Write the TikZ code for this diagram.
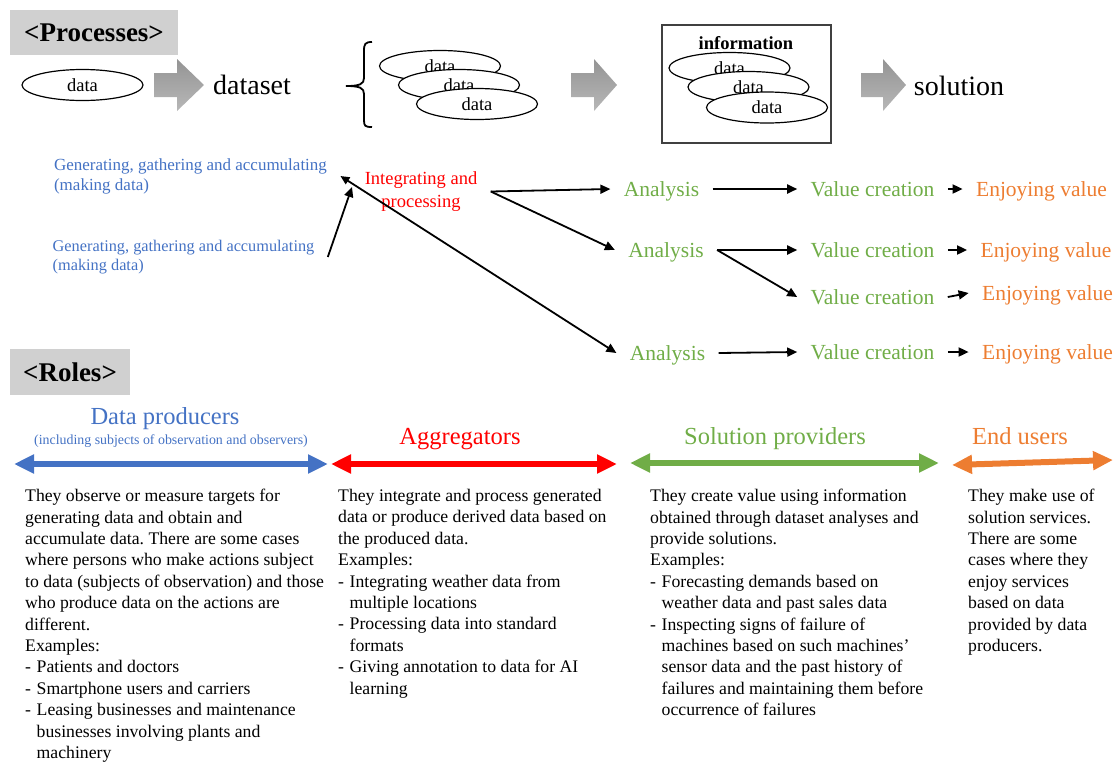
\documentclass[tikz,border=0pt]{standalone}
\usepackage{fontspec}
\setmainfont{Liberation Serif}
\usetikzlibrary{arrows.meta,shapes.geometric}
\definecolor{cblue}{HTML}{4472C4}
\definecolor{cred}{HTML}{FF0000}
\definecolor{cgreen}{HTML}{70AD47}
\definecolor{corange}{HTML}{ED7D31}
\definecolor{boxgray}{HTML}{D0D0D0}
\newcommand\fsz[2]{\fontsize{#1}{#2}\selectfont}
\frenchspacing
\begin{document}
\begin{tikzpicture}[x=1pt,y=-1pt,
  lbl/.style={inner sep=0pt, outer sep=13.5pt},
  flow/.style={lbl, font=\fsz{21.5}{25}, text height=15pt, text depth=0.5pt},
  big/.style={lbl, font=\fsz{28}{32}, text height=19.5pt, text depth=2pt},
  dat/.style={ellipse, draw, fill=white, line width=1.2pt, minimum width=121pt, minimum height=31pt, inner sep=0pt, font=\fsz{18.5}{20}},
  conn/.style={line width=1.8pt, -{Triangle[length=10pt,width=9pt]}},
  conntwo/.style={line width=1.8pt, {Triangle[length=9pt,width=8pt]}-{Triangle[length=10pt,width=9pt]}},
  rolearr/.style={line width=6pt, {Triangle[length=20pt,width=18pt]}-{Triangle[length=20pt,width=18pt]}},
  blockarr/.style={top color=black!42, bottom color=black!28, draw=none},
  head/.style={fill=boxgray, inner sep=0pt, font=\bfseries\fsz{27}{30}},
  body/.style={anchor=north west, inner sep=0pt, align=left, font=\fsz{17.7}{21.4}},
  role/.style={inner sep=0pt, font=\fsz{24.5}{28}, text height=17pt, text depth=5pt}
]
\useasboundingbox (0,0) rectangle (1117,761);

% ---------- Processes ----------
\node[head, minimum width=168pt, minimum height=45pt] (proc) at (94,32.5) {<Processes>};

\node[dat] (d0) at (82.5,85) {data};
\shade[blockarr] (154,73) -- (177,73) -- (177,59) -- (204,85) -- (177,111) -- (177,97) -- (154,97) -- cycle;
\node[big] (dset) at (252,86) {dataset};

\draw[line width=1.8pt] (372,42) .. controls (365,42) and (364,44) .. (364,51) -- (364,78)
  .. controls (364,84) and (360,86) .. (346,86) .. controls (360,86) and (364,88) .. (364,94)
  -- (364,120) .. controls (364,126) and (365,127) .. (372,127);

\node[dat] (ds1) at (440,66) {data};
\node[dat] (ds2) at (459,85) {data};
\node[dat] (ds3) at (477,104) {data};

\shade[blockarr] (571,73) -- (594,73) -- (594,59) -- (617,85) -- (594,111) -- (594,97) -- (571,97) -- cycle;

\node[draw=black!75, line width=1.5pt, minimum width=169pt, minimum height=118pt, inner sep=0pt] (info) at (746.5,84) {};
\node[inner sep=0pt, font=\bfseries\fsz{18.5}{20}] (infol) at (746,43) {information};
\node[dat] (in1) at (729.5,68) {data};
\node[dat] (in2) at (748.5,87) {data};
\node[dat] (in3) at (767,107.5) {data};

\shade[blockarr] (861,73) -- (883,73) -- (883,59) -- (906,85) -- (883,111) -- (883,97) -- (861,97) -- cycle;
\node[big] (sol) at (959,87) {solution};

% ---------- flow ----------
\node[lbl, text=cblue, align=left, font=\fsz{17}{20}] (gen1) at (190.5,176) {Generating, gathering and accumulating\\(making data)};
\node[lbl, text=cblue, align=left, font=\fsz{16.3}{19.5}] (gen2) at (183.5,257) {Generating, gathering and accumulating\\(making data)};
\node[lbl, text=cred, align=center, font=\fsz{18.5}{23}] (ip) at (421,191.5) {Integrating and\\processing};

\node[flow, text=cgreen] (an1) at (661.5,189) {Analysis};
\node[flow, text=cgreen] (vc1) at (872.5,189) {Value creation};
\node[flow, text=corange] (ev1) at (1041.5,189) {Enjoying value};

\node[flow, text=cgreen] (an2) at (666,250) {Analysis};
\node[flow, text=cgreen] (vc2) at (872.5,250) {Value creation};
\node[flow, text=corange] (ev2) at (1046,250) {Enjoying value};

\node[flow, text=cgreen] (vc3) at (872.5,297) {Value creation};
\node[flow, text=corange] (ev3) at (1047.5,293) {Enjoying value};

\node[flow, text=cgreen] (an3) at (667.5,353) {Analysis};
\node[flow, text=cgreen] (vc4) at (872.5,352) {Value creation};
\node[flow, text=corange] (ev4) at (1047.5,352) {Enjoying value};

\coordinate (gm) at (352,187);
\draw[conntwo] (gen1.east) -- (an3.west);
\draw[conn] (gen2.east) -- (gm);
\draw[conn] (ip.east) -- (an1.west);
\draw[conn] (ip.east) -- (an2.west);
\draw[conn] (an1.east) -- (vc1.west);
\draw[conn] (vc1.east) -- (ev1.west);
\draw[conn] (an2.east) -- (vc2.west);
\draw[conn] (an2.east) -- (vc3.west);
\draw[conn] (vc2.east) -- (ev2.west);
\draw[conn] (vc3.east) -- (ev3.west);
\draw[conn] (an3.east) -- (vc4.west);
\draw[conn] (vc4.east) -- (ev4.west);

% ---------- Roles ----------
\node[head, minimum width=120pt, minimum height=46pt] (roles) at (70,372) {<Roles>};

\node[role, text=cblue] (rdp) at (165,418) {Data producers};
\node[inner sep=0pt, text=cblue, font=\fsz{13.9}{15}] (rdps) at (171,441) {(including subjects of observation and observers)};
\node[role, text=cred] (rag) at (460,438) {Aggregators};
\node[role, text=cgreen] (rsp) at (775,438) {Solution providers};
\node[role, text=corange] (reu) at (1020,438) {End users};

\coordinate (b1) at (14,464); \coordinate (b2) at (328,464);
\coordinate (r1) at (331,464); \coordinate (r2) at (617,464);
\coordinate (g1) at (630,463); \coordinate (g2) at (939,463);
\coordinate (o1) at (952,465); \coordinate (o2) at (1113,460);
\draw[rolearr, cblue] (b1) -- (b2);
\draw[rolearr, cred] (r1) -- (r2);
\draw[rolearr, cgreen] (g1) -- (g2);
\draw[rolearr, corange] (o1) -- (o2);

\node[body] (t1) at (25,489) {They observe or measure targets for\\
generating data and obtain and\\
accumulate data. There are some cases\\
where persons who make actions subject\\
to data (subjects of observation) and those\\
who produce data on the actions are\\
different.\\
Examples:\\
\makebox[11.5pt][l]{-}Patients and doctors\\
\makebox[11.5pt][l]{-}Smartphone users and carriers\\
\makebox[11.5pt][l]{-}Leasing businesses and maintenance\\
\hspace*{11.5pt}businesses involving plants and\\
\hspace*{11.5pt}machinery};

\node[body] (t2) at (338,489) {They integrate and process generated\\
data or produce derived data based on\\
the produced data.\\
Examples:\\
\makebox[11.5pt][l]{-}Integrating weather data from\\
\hspace*{11.5pt}multiple locations\\
\makebox[11.5pt][l]{-}Processing data into standard\\
\hspace*{11.5pt}formats\\
\makebox[11.5pt][l]{-}Giving annotation to data for AI\\
\hspace*{11.5pt}learning};

\node[body] (t3) at (650,489) {They create value using information\\
obtained through dataset analyses and\\
provide solutions.\\
Examples:\\
\makebox[11.5pt][l]{-}Forecasting demands based on\\
\hspace*{11.5pt}weather data and past sales data\\
\makebox[11.5pt][l]{-}Inspecting signs of failure of\\
\hspace*{11.5pt}machines based on such machines’\\
\hspace*{11.5pt}sensor data and the past history of\\
\hspace*{11.5pt}failures and maintaining them before\\
\hspace*{11.5pt}occurrence of failures};

\node[body] (t4) at (968,489) {They make use of\\
solution services.\\
There are some\\
cases where they\\
enjoy services\\
based on data\\
provided by data\\
producers.};
\end{tikzpicture}
\end{document}
